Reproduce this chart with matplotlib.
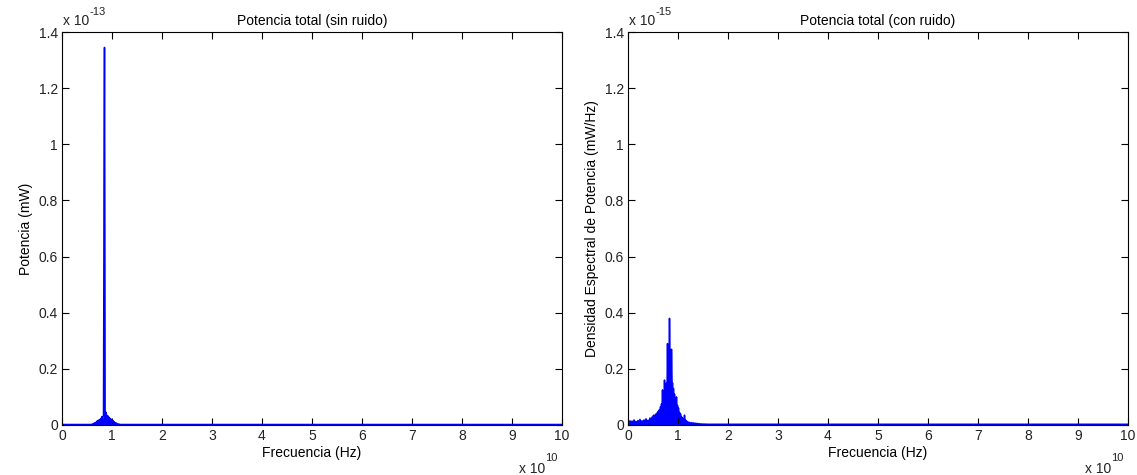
import numpy as np
import matplotlib
matplotlib.use("Agg")
import matplotlib.pyplot as plt

plt.rcParams['font.family'] = ['Liberation Sans', 'DejaVu Sans']

# ---- data (frequency in units of 1e10 Hz) ----
# Left: power without noise (units of 1e-13 mW)
freq_left_base = [0.0, 0.59]
pow_left_base = [0.001, 0.001]
freq_left_hump = np.round(np.arange(0.60, 1.165, 0.01), 2)
pow_left_hump = [0.002, 0.003, 0.004, 0.003, 0.006, 0.004, 0.008, 0.006, 0.010, 0.008,
                 0.014, 0.010, 0.016, 0.012, 0.018, 0.014, 0.020, 0.016, 0.024, 0.018,
                 0.030, 0.020, 0.028, 0.035, 0.760, 1.345, 0.050, 0.040, 0.045, 0.030,
                 0.022, 0.034, 0.020, 0.030, 0.018, 0.026, 0.016, 0.022, 0.014, 0.020,
                 0.012, 0.016, 0.010, 0.014, 0.008, 0.010, 0.006, 0.008, 0.005, 0.006,
                 0.004, 0.004, 0.003, 0.003, 0.002, 0.002, 0.001]
freq_left_tail = [1.17, 10.0]
pow_left_tail = [0.001, 0.001]

# Right: power spectral density with noise (units of 1e-15 mW/Hz)
freq_right_low = np.round(np.arange(0.0, 0.49, 0.02), 2)
psd_right_low = [0.012, 0.004, 0.015, 0.006, 0.014, 0.005, 0.018, 0.007, 0.013, 0.006,
                 0.016, 0.008, 0.020, 0.006, 0.015, 0.009, 0.018, 0.007, 0.022, 0.010,
                 0.017, 0.011, 0.025, 0.012, 0.028]
freq_right_hump = np.round(np.arange(0.50, 1.205, 0.01), 2)
psd_right_hump = [0.020, 0.035, 0.015, 0.030, 0.018, 0.038, 0.022, 0.040, 0.025, 0.045,
                  0.030, 0.050, 0.035, 0.055, 0.040, 0.065, 0.045, 0.075, 0.055, 0.125,
                  0.060, 0.100, 0.070, 0.160, 0.080, 0.130, 0.090, 0.150, 0.100, 0.290,
                  0.120, 0.200, 0.140, 0.380, 0.150, 0.200, 0.130, 0.270, 0.120, 0.150,
                  0.100, 0.130, 0.080, 0.110, 0.070, 0.090, 0.060, 0.100, 0.045, 0.070,
                  0.040, 0.060, 0.030, 0.045, 0.025, 0.040, 0.020, 0.030, 0.018, 0.025,
                  0.015, 0.022, 0.012, 0.035, 0.010, 0.018, 0.008, 0.014, 0.008, 0.012,
                  0.006]
freq_right_high = np.round(np.arange(1.22, 1.505, 0.02), 2)
psd_right_high = [0.010, 0.005, 0.009, 0.004, 0.008, 0.004, 0.007, 0.003, 0.006, 0.003,
                  0.005, 0.002, 0.004, 0.002, 0.003]
freq_right_tail = [1.6, 10.0]
psd_right_tail = [0.002, 0.002]

xticks = list(range(0, 11))
yticks = [0, 0.2, 0.4, 0.6, 0.8, 1.0, 1.2, 1.4]
ytick_labels = ['0', '0.2', '0.4', '0.6', '0.8', '1', '1.2', '1.4']

titles = ['Potencia total (sin ruido)', 'Potencia total (con ruido)']
ylabels = ['Potencia (mW)', 'Densidad Espectral de Potencia (mW/Hz)']
xlabel = 'Frecuencia (Hz)'
yexp = ['-13', '-15']
xexp = '10'

W, H = 1137, 475
fig = plt.figure(figsize=(W / 100, H / 100), dpi=100)
axL = fig.add_axes([62 / W, 1 - 425 / H, 500 / W, 393 / H])
axR = fig.add_axes([628 / W, 1 - 425 / H, 500 / W, 393 / H])

blue = '#0000ff'
fl = np.concatenate([freq_left_base, freq_left_hump, freq_left_tail])
pl = np.concatenate([pow_left_base, pow_left_hump, pow_left_tail])
fr = np.concatenate([freq_right_low, freq_right_hump, freq_right_high, freq_right_tail])
pr = np.concatenate([psd_right_low, psd_right_hump, psd_right_high, psd_right_tail])

for ax, f, p in [(axL, fl, pl), (axR, fr, pr)]:
    ax.fill_between(f, 0, p, color=blue, lw=0)
    ax.plot(f, p, color=blue, lw=1.1)
    ax.plot([0, 10], [0, 0], color=blue, lw=2.5, clip_on=True)

for i, ax in enumerate([axL, axR]):
    ax.set_xlim(0, 10)
    ax.set_ylim(0, 1.4)
    ax.set_xticks(xticks)
    ax.set_xticklabels([str(t) for t in xticks])
    ax.set_yticks(yticks)
    ax.set_yticklabels(ytick_labels)
    ax.tick_params(direction='in', length=5, width=0.8, top=True, right=True,
                   labelsize=10, colors='black', labelcolor='#222222', pad=3)
    for s in ax.spines.values():
        s.set_color('black')
        s.set_linewidth(0.8)
        s.set_zorder(5)
    ax.set_title(titles[i], fontsize=10, pad=5)
    ax.set_xlabel(xlabel, fontsize=10, labelpad=2)
    ax.set_ylabel(ylabels[i], fontsize=10, labelpad=4)
    # exponent labels (MATLAB style)
    ax.annotate('x 10', xy=(0.0, 1.0), xycoords='axes fraction', xytext=(1, 3),
                textcoords='offset points', fontsize=10, ha='left', va='bottom',
                color='#222222')
    ax.annotate(yexp[i], xy=(0.0, 1.0), xycoords='axes fraction', xytext=(20, 11),
                textcoords='offset points', fontsize=8, ha='left', va='bottom',
                color='#222222')
    ax.annotate('x 10', xy=(1.0, 0.0), xycoords='axes fraction', xytext=(-12, -26.5),
                textcoords='offset points', fontsize=10, ha='right', va='top',
                color='#222222')
    ax.annotate(xexp, xy=(1.0, 0.0), xycoords='axes fraction', xytext=(-12, -20),
                textcoords='offset points', fontsize=8, ha='left', va='top',
                color='#222222')

fig.savefig('out.png', dpi=100, facecolor='white')
